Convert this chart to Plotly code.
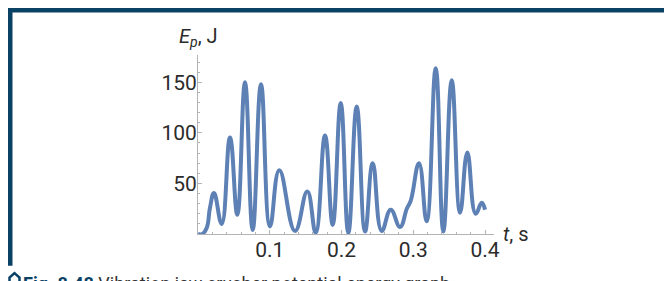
import plotly.graph_objects as go

# ---- data ----
t_s = [0.0, 0.006, 0.0121, 0.0167, 0.0223, 0.033, 0.0446, 0.0548, 0.0655, 0.0762,
       0.0878, 0.1003, 0.1133, 0.1352, 0.1523, 0.164, 0.177, 0.1877, 0.1989, 0.2095,
       0.2212, 0.2328, 0.2435, 0.256, 0.2686, 0.2815, 0.291, 0.2965, 0.308, 0.3187,
       0.3313, 0.3419, 0.3536, 0.3652, 0.3753, 0.387, 0.3954, 0.4]
Ep_J = [0.0, 0.0, 6.0, 26.0, 40.5, 10.0, 95.5, 19.0, 150.0, 4.0,
        148.0, 7.5, 63.0, 3.0, 42.0, 1.5, 97.5, 9.0, 129.5, 1.0,
        126.0, 2.5, 70.0, 3.0, 24.0, 7.0, 25.0, 33.0, 70.0, 12.5,
        164.0, 2.5, 152.0, 21.0, 80.5, 20.0, 31.0, 24.0]

x_ticks = [0.1, 0.2, 0.3, 0.4]
x_tick_text = ["0.1", "0.2", "0.3", "0.4"]
x_minor = [0.02, 0.04, 0.06, 0.08, 0.12, 0.14, 0.16, 0.18, 0.22, 0.24, 0.26, 0.28,
           0.32, 0.34, 0.36, 0.38, 0.40]
y_ticks = [50, 100, 150]
y_tick_text = ["50", "100", "150"]
y_minor = [10, 20, 30, 40, 60, 70, 80, 90, 110, 120, 130, 140, 160, 170]

caption_label = "Fig. 8.48"
caption_text = "Vibration jaw crusher potential energy graph"

# ---- layout geometry (page pixels; the page body adds an 8px offset) ----
OFF = 8
W, H = 672, 281
PLOT_LEFT, PLOT_RIGHT, PLOT_TOP, PLOT_BOTTOM = 198, 494, 55, 234.3
L = PLOT_LEFT - OFF
R = W - (PLOT_RIGHT - OFF)
T = PLOT_TOP - OFF
B = H - (PLOT_BOTTOM - OFF)
PW, PH = W - L - R, H - T - B
X_RANGE = [0, 0.4125]
Y_RANGE = [0, 177]


def px(xp):
    return (xp - OFF - L) / PW


def py(yp):
    return (H - B - (yp - OFF)) / PH


FRAME = "#0a4266"
AXIS = "#b3b3b3"
TXT = "#2b2b2b"
FONT = "Roboto"

fig = go.Figure()
fig.add_trace(go.Scatter(
    x=t_s, y=Ep_J, mode="lines",
    line=dict(color="#5E81B5", width=4, shape="spline", smoothing=1.3),
    cliponaxis=False, hoverinfo="skip", showlegend=False,
))

fig.update_layout(
    width=W, height=H,
    margin=dict(l=L, r=R, t=T, b=B, pad=0),
    paper_bgcolor="white", plot_bgcolor="white",
    font=dict(family=FONT, color=TXT, size=21),
    xaxis=dict(range=X_RANGE, showgrid=False, zeroline=False,
               showline=True, linecolor=AXIS, linewidth=1,
               tickmode="array", tickvals=x_ticks, ticktext=x_tick_text,
               ticks="inside", ticklen=4, tickcolor=AXIS, tickwidth=1,
               minor=dict(tickvals=x_minor, ticks="inside", ticklen=2,
                          tickcolor=AXIS, showgrid=False),
               tickfont=dict(family=FONT, size=21, color=TXT),
               ticklabelstandoff=-3),
    yaxis=dict(range=Y_RANGE, showgrid=False, zeroline=False,
               showline=True, linecolor=AXIS, linewidth=1,
               tickmode="array", tickvals=y_ticks, ticktext=y_tick_text,
               ticks="inside", ticklen=4, tickcolor=AXIS, tickwidth=1,
               minor=dict(tickvals=y_minor, ticks="inside", ticklen=2,
                          tickcolor=AXIS, showgrid=False),
               tickfont=dict(family=FONT, size=21, color=TXT),
               ticklabelstandoff=-4),
    annotations=[
        dict(x=0, y=py(52), xref="x", yref="paper",
             text="<i>E</i><sub><i>p</i></sub>, J",
             showarrow=False, xanchor="center", yanchor="bottom",
             font=dict(family=FONT, size=20, color=TXT)),
        dict(x=px(501), y=0, xref="paper", yref="y",
             text="<i>t</i>, s",
             showarrow=False, xanchor="left", yanchor="middle",
             font=dict(family=FONT, size=20, color=TXT)),
        dict(x=px(21), y=py(271.5), xref="paper", yref="paper",
             text="<b>" + caption_label + "</b> <span style='color:#333'>" + caption_text + "</span>",
             showarrow=False, xanchor="left", yanchor="top",
             font=dict(family=FONT, size=18, color=FRAME)),
    ],
    shapes=[
        dict(type="rect", xref="paper", yref="paper",
             x0=px(8), x1=px(W + 20), y0=py(8), y1=py(12.5),
             fillcolor=FRAME, line=dict(width=0), layer="below"),
        dict(type="rect", xref="paper", yref="paper",
             x0=px(8), x1=px(12.5), y0=py(8), y1=py(266),
             fillcolor=FRAME, line=dict(width=0), layer="below"),
        dict(type="path", xref="paper", yref="paper",
             path="M {} {} L {} {} L {} {} L {} {}".format(
                 px(9.5), py(286), px(9.5), py(278), px(14.5), py(273.5), px(19.5), py(278)) +
                  " L {} {}".format(px(19.5), py(286)),
             line=dict(color=FRAME, width=2.5)),
    ],
)

fig.write_html("out.html")
